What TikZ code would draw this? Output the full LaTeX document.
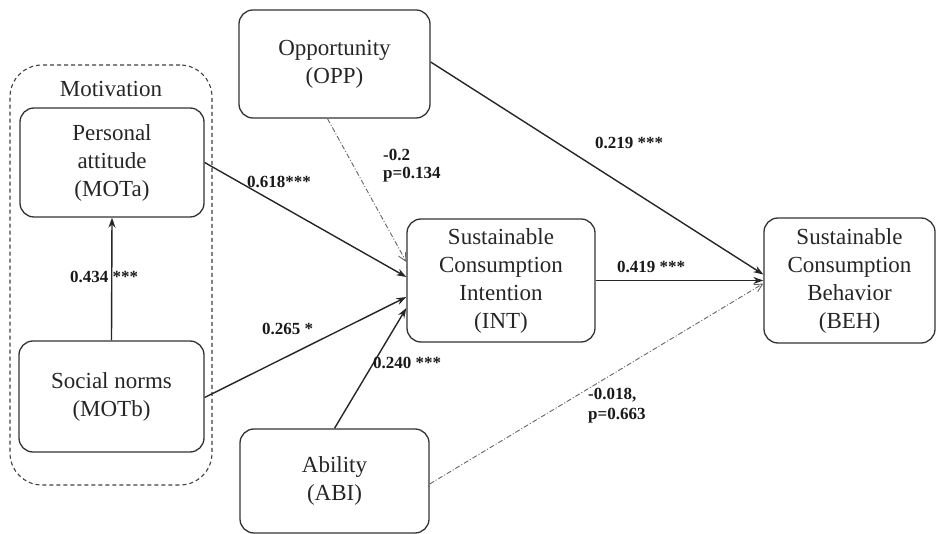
\documentclass[tikz,border=0pt]{standalone}
\usepackage{fontspec}
\setmainfont{Liberation Serif}
\usetikzlibrary{arrows.meta}
\begin{document}
\begin{tikzpicture}[x=1pt,y=-1pt,
  construct/.style={draw=black!80, line width=1.3pt, rounded corners=14pt,
    align=center, inner sep=0pt, font=\fontsize{23}{28}\selectfont, text=black!85},
  group/.style={draw=black!75, line width=1.1pt, dashed, dash pattern=on 4pt off 3pt,
    rounded corners=32pt},
  path/.style={draw=black!85, line width=1.4pt, -{Stealth[length=10pt,width=7pt]}},
  nspath/.style={draw=black!60, line width=0.9pt, dash pattern=on 5pt off 2pt on 1pt off 2pt,
    -{Straight Barb[length=8pt,width=8pt]}},
  coef/.style={font=\bfseries\fontsize{17}{20}\selectfont, text=black!90, inner sep=0pt,
    anchor=west, align=left}]
  \useasboundingbox (0,0) rectangle (937,534);

  % Motivation group
  \node[group, minimum width=202pt, minimum height=420pt] (motiv) at (111,275) {};
  \node[font=\fontsize{23}{28}\selectfont, text=black!85] (motivlbl) at (111,89) {Motivation};

  % Constructs
  \node[construct, minimum width=184pt, minimum height=109pt] (mota) at (112,162.5)
    {Personal\\attitude\\(MOTa)};
  \node[construct, minimum width=185pt, minimum height=111pt] (motb) at (111.5,396.5)
    {Social norms\\(MOTb)};
  \node[construct, minimum width=191pt, minimum height=108pt] (opp) at (334.5,64)
    {Opportunity\\(OPP)};
  \node[construct, minimum width=188pt, minimum height=123pt] (int) at (501,280.5)
    {Sustainable\\Consumption\\Intention\\(INT)};
  \node[construct, minimum width=171pt, minimum height=125pt] (beh) at (849.5,280.5)
    {Sustainable\\Consumption\\Behavior\\(BEH)};
  \node[construct, minimum width=189pt, minimum height=104pt] (abi) at (334.5,481)
    {Ability\\(ABI)};

  % Structural paths
  \draw[path] (motb.north) -- (mota.south);
  \draw[path] (mota.east) -- ([yshift=3.5pt]int.west);
  \draw[path] ([yshift=-1pt]motb.east) -- ([yshift=-16.5pt]int.west);
  \draw[path] (abi.north) -- ([yshift=-27.5pt]int.west);
  \draw[path] (int.east) -- (beh.west);
  \draw[path] ([yshift=2pt]opp.east) -- ([yshift=6pt]beh.west);
  \draw[nspath] ([xshift=-7pt]opp.south) -- ([yshift=18.5pt]int.west);
  \draw[nspath] ([yshift=-3pt]abi.east) -- ([yshift=-3pt]beh.west);

  % Path coefficients
  \node[coef] (c434) at (70,277) {0.434 ***};
  \node[coef] (c618) at (247,182) {0.618***};
  \node[coef] (c265) at (262,329) {0.265 *};
  \node[coef] (c240) at (373,363) {0.240 ***};
  \node[coef] (c02) at (383,155) {-0.2};
  \node[coef] (c134) at (383,175) {p=0.134};
  \node[coef] (c219) at (595,143) {0.219 ***};
  \node[coef] (c419) at (617,267) {0.419 ***};
  \node[coef] (c018) at (588,395) {-0.018,};
  \node[coef] (c663) at (588,416) {p=0.663};
\end{tikzpicture}
\end{document}
